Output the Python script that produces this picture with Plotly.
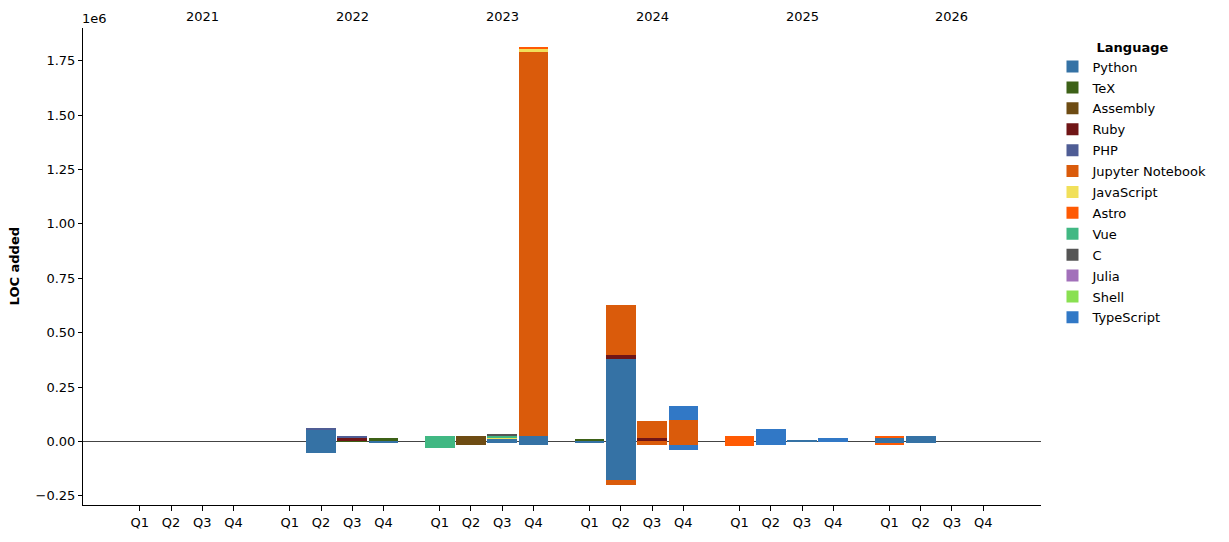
import plotly.graph_objects as go

# ---------------- data ----------------
years = ["2021", "2022", "2023", "2024", "2025", "2026"]
quarters = ["Q1", "Q2", "Q3", "Q4"]

languages = ["Python", "TeX", "Assembly", "Ruby", "PHP", "Jupyter Notebook",
             "JavaScript", "Astro", "Vue", "C", "Julia", "Shell", "TypeScript"]
colors = ["#3572A5", "#3D6117", "#6E4C13", "#701516", "#4F5D95", "#DA5B0B",
          "#F1E05A", "#FF5A03", "#41B883", "#555555", "#A270BA", "#89E051", "#3178C6"]

# 24 quarters: 2021Q1 ... 2026Q4 ; lines added (positive) and removed (negative)
python_add = [0, 0, 0, 0, 0, 56000, 0, 0, 0, 0, 14000, 23000, 4000, 379000, 0, 0, 0, 0, 5000, 0, 18000, 23000, 0, 0]
python_del = [0, 0, 0, 0, 0, -53000, 0, -3000, 0, 0, -7000, -14000, -7000, -178000, 0, 0, 0, 0, -2000, 0, -9000, -9000, 0, 0]
tex_add = [0, 0, 0, 0, 0, 0, 3000, 18000, 0, 0, 0, 0, 5000, 0, 0, 0, 0, 0, 0, 0, 0, 0, 0, 0]
tex_del = [0] * 24
assembly_add = [0, 0, 0, 0, 0, 0, 0, 0, 0, 23000, 0, 0, 0, 0, 0, 0, 0, 0, 0, 0, 0, 0, 0, 0]
assembly_del = [0, 0, 0, 0, 0, 0, 0, 0, 0, -14000, 0, 0, 0, 0, 0, 0, 0, 0, 0, 0, 0, 0, 0, 0]
ruby_add = [0, 0, 0, 0, 0, 0, 14000, 0, 0, 0, 0, 0, 0, 18000, 14000, 0, 0, 0, 0, 0, 0, 0, 0, 0]
ruby_del = [0] * 24
php_add = [0, 0, 0, 0, 0, 7000, 9000, 0, 0, 0, 0, 0, 0, 0, 0, 0, 0, 0, 0, 0, 0, 0, 0, 0]
php_del = [0] * 24
jupyter_add = [0, 0, 0, 0, 0, 0, 0, 0, 0, 0, 0, 1768000, 0, 228000, 78000, 100000, 0, 0, 0, 0, 0, 0, 0, 0]
jupyter_del = [0, 0, 0, 0, 0, 0, 0, 0, 0, 0, 0, 0, 0, -23000, -18000, -14000, 0, 0, 0, 0, 0, 0, 0, 0]
javascript_add = [0, 0, 0, 0, 0, 0, 0, 0, 0, 0, 5000, 14000, 0, 0, 0, 0, 0, 0, 0, 0, 0, 0, 0, 0]
javascript_del = [0] * 24
astro_add = [0, 0, 0, 0, 0, 0, 0, 0, 0, 0, 0, 5000, 0, 0, 0, 0, 23000, 0, 0, 0, 9000, 0, 0, 0]
astro_del = [0, 0, 0, 0, 0, 0, 0, 0, 0, 0, 0, 0, 0, 0, 0, 0, -23000, 0, 0, 0, -5000, 0, 0, 0]
vue_add = [0, 0, 0, 0, 0, 0, 0, 0, 23000, 0, 9000, 0, 0, 0, 0, 0, 0, 0, 0, 0, 0, 0, 0, 0]
vue_del = [0, 0, 0, 0, 0, 0, 0, 0, -32000, 0, 0, 0, 0, 0, 0, 0, 0, 0, 0, 0, 0, 0, 0, 0]
c_add = [0, 0, 0, 0, 0, 0, 0, 0, 0, 0, 4000, 0, 0, 0, 0, 0, 0, 0, 0, 0, 0, 0, 0, 0]
c_del = [0] * 24
julia_add = [0] * 24
julia_del = [0] * 24
shell_add = [0] * 24
shell_del = [0] * 24
typescript_add = [0, 0, 0, 0, 0, 0, 0, 0, 0, 0, 0, 0, 0, 0, 0, 64000, 0, 55000, 0, 18000, 0, 0, 0, 0]
typescript_del = [0, 0, 0, 0, 0, 0, 0, 0, 0, 0, 0, 0, 0, 0, 0, -27000, 0, -18000, 0, -2000, 0, 0, 0, 0]

added = [python_add, tex_add, assembly_add, ruby_add, php_add, jupyter_add,
         javascript_add, astro_add, vue_add, c_add, julia_add, shell_add, typescript_add]
removed = [python_del, tex_del, assembly_del, ruby_del, php_del, jupyter_del,
           javascript_del, astro_del, vue_del, c_del, julia_del, shell_del, typescript_del]

ytick_vals = [-250000, 0, 250000, 500000, 750000, 1000000, 1250000, 1500000, 1750000]
ytick_text = ["\u22120.25", "0.00", "0.25", "0.50", "0.75", "1.00", "1.25", "1.50", "1.75"]

# ---------------- layout helpers ----------------
YEAR_STEP = 4.8
xpos = [yi * YEAR_STEP + qi for yi in range(len(years)) for qi in range(len(quarters))]
xlabels = [q for _ in years for q in quarters]

FONT = "DejaVu Sans"
fig = go.Figure()

for lang, col, add, rem in zip(languages, colors, added, removed):
    fig.add_trace(go.Bar(x=xpos, y=add, name=lang, marker_color=col,
                         marker_line_width=0, width=0.95,
                         legendgroup=lang, showlegend=True))
    fig.add_trace(go.Bar(x=xpos, y=rem, name=lang, marker_color=col,
                         marker_line_width=0, width=0.95,
                         legendgroup=lang, showlegend=False))

annotations = []
for yi, yr in enumerate(years):
    annotations.append(dict(x=yi * YEAR_STEP + 2, y=1.025, xref="x", yref="paper",
                            text=yr, showarrow=False, yanchor="middle",
                            font=dict(family=FONT, size=13, color="black")))
annotations.append(dict(x=-0.003, y=1.0, xref="paper", yref="paper", text="1e6",
                        showarrow=False, xanchor="left", yanchor="bottom",
                        font=dict(family=FONT, size=13, color="black")))
annotations.append(dict(x=-0.081, y=0.5, xref="paper", yref="paper",
                        text="<b>LOC added</b>", textangle=-90, showarrow=False,
                        font=dict(family=FONT, size=13, color="black")))

fig.update_layout(
    width=1229, height=542,
    margin=dict(l=83, r=188, t=28, b=34),
    barmode="relative", bargap=0,
    plot_bgcolor="white", paper_bgcolor="white",
    font=dict(family=FONT, size=13, color="black"),
    legend=dict(x=1.012, y=0.986, xanchor="left", yanchor="top",
                title=dict(text="<b>Language</b>", side="top center",
                           font=dict(family=FONT, size=13)),
                tracegroupgap=1, font=dict(family=FONT, size=13),
                itemwidth=30),
    annotations=annotations,
    xaxis=dict(range=[-1.82, 28.85], tickvals=xpos, ticktext=xlabels,
               showline=True, linecolor="black", linewidth=1,
               ticks="outside", ticklen=5, tickcolor="black",
               showgrid=False, zeroline=False),
    yaxis=dict(range=[-292000, 1900000], tickvals=ytick_vals, ticktext=ytick_text,
               showline=True, linecolor="black", linewidth=1,
               ticks="outside", ticklen=4, tickcolor="black",
               showgrid=False, zeroline=True, zerolinecolor="#444444",
               zerolinewidth=0.8, layer="above traces"),
)

fig.write_html("out.html")
